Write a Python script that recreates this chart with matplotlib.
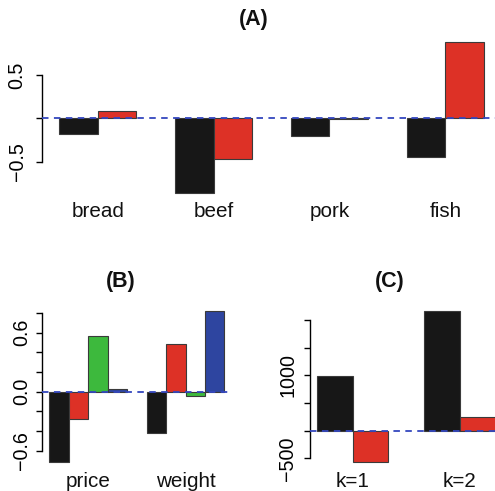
import numpy as np
import matplotlib
matplotlib.use("Agg")
import matplotlib.pyplot as plt
from matplotlib import transforms

plt.rcParams['font.family'] = ['Liberation Sans', 'DejaVu Sans']

# ---- data -------------------------------------------------------------
a_categories = ['bread', 'beef', 'pork', 'fish']
a_black = [-0.18, -0.865, -0.20, -0.45]
a_red = [0.085, -0.47, -0.005, 0.877]

b_categories = ['price', 'weight']
b_black = [-0.717, -0.416]
b_red = [-0.28, 0.48]
b_green = [0.565, -0.044]
b_blue = [0.027, 0.82]

c_categories = ['k=1', 'k=2']
c_black = [987, 2166]
c_red = [-571, 253]

a_yticks = [-0.5, 0.0, 0.5]
a_ylabels = ['\u22120.5', '', '0.5']
b_yticks = [-0.6, -0.4, -0.2, 0.0, 0.2, 0.4, 0.6, 0.8]
b_ylabels = ['\u22120.6', '', '', '0.0', '', '', '0.6', '']
c_yticks = [-500, 0, 500, 1000, 1500, 2000]
c_ylabels = ['\u2212500', '', '', '1000', '', '']

# ---- style ------------------------------------------------------------
BLACK = '#171717'
RED = '#DD3126'
GREEN = '#3DB93D'
BLUE = '#2E45A0'
LINE = '#3447BE'
EDGE = '#3a3a3a'

W, H = 495, 491
fig = plt.figure(figsize=(W / 100, H / 100), dpi=100)


def axes_px(left, top, right, bottom):
    return fig.add_axes([left / W, 1 - bottom / H, (right - left) / W, (bottom - top) / H])


def r_range(lo, hi):
    d = (hi - lo) * 0.04
    return lo - d, hi + d


def barpanel(ax, series, colors, cats, yticks, ylabels, tick_pad, label_y_px):
    n = len(series)
    groups = len(cats)
    vals = np.array(series)
    for j, (vals_j, col) in enumerate(zip(series, colors)):
        lefts = [1 + g * (n + 1) + j for g in range(groups)]
        ax.bar(lefts, vals_j, width=1.0, align='edge', color=col,
               edgecolor=EDGE, linewidth=0.8, zorder=2)
    total = groups * (n + 1)
    ax.set_xlim(*r_range(1, total))
    lo = min(0, vals.min())
    hi = max(0, vals.max())
    ax.set_ylim(*r_range(lo, hi))
    ax.axhline(0, color=LINE, lw=1.3, ls=(0, (3.6, 3.0)), zorder=3)
    for s in ['top', 'right', 'bottom']:
        ax.spines[s].set_visible(False)
    ax.spines['left'].set_bounds(yticks[0], yticks[-1])
    ax.spines['left'].set_linewidth(1.0)
    ax.set_xticks([])
    ax.set_yticks(yticks)
    ax.set_yticklabels(ylabels, rotation=90, va='center', fontsize=14.2)
    ax.tick_params(axis='y', length=4.3, width=1.0, pad=tick_pad)
    ax.patch.set_alpha(0)
    trans = transforms.blended_transform_factory(ax.transData, fig.transFigure)
    for g, name in enumerate(cats):
        xc = 1 + g * (n + 1) + n / 2
        ax.text(xc, 1 - label_y_px / H, name, transform=trans, ha='center',
                va='baseline', fontsize=14.9, color='#111111')


# (A)
ax_a = axes_px(42, 36.2, 501, 199.4)
barpanel(ax_a, [a_black, a_red], [BLACK, RED], a_categories,
         a_yticks, a_ylabels, 6.8, 216.7)

# (B)
ax_b = axes_px(42.3, 304.9, 231.5, 468.3)
barpanel(ax_b, [b_black, b_red, b_green, b_blue], [BLACK, RED, GREEN, BLUE],
         b_categories, b_yticks, b_ylabels, 3.6, 486.7)

# (C)
ax_c = axes_px(309.9, 304.6, 502.7, 468.4)
barpanel(ax_c, [c_black, c_red], [BLACK, RED], c_categories,
         c_yticks, c_ylabels, 4.8, 486.7)

for label, x, y in [('(A)', 254, 20), ('(B)', 121, 281), ('(C)', 389.5, 281)]:
    fig.text(x / W, 1 - y / H, label, ha='center', va='center',
             fontsize=15.5, fontweight='bold', color='#111111')

fig.savefig('out.png', dpi=100)
